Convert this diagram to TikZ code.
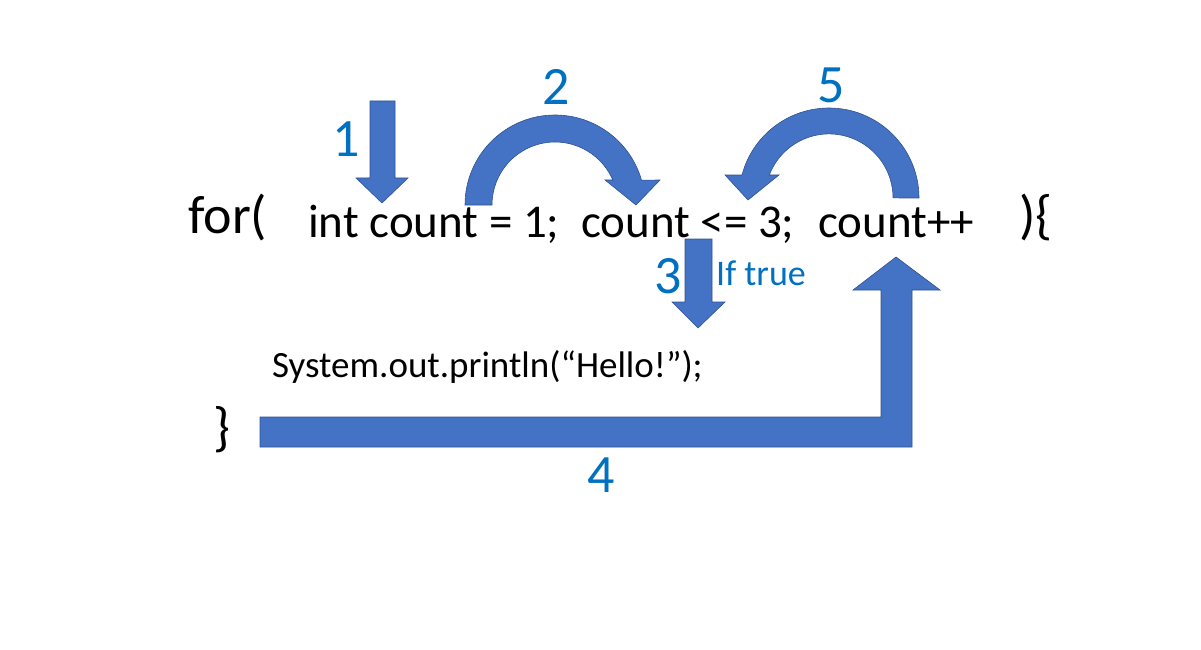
\documentclass[tikz,border=0pt]{standalone}
\usepackage{fontspec}
\setmainfont{Carlito}
\usepackage{tikz}

\definecolor{arrowblue}{HTML}{4472C4}
\definecolor{arrowedge}{HTML}{2F528F}
\definecolor{labelblue}{HTML}{0070C0}

\begin{document}
\begin{tikzpicture}[x=1pt, y=1pt,
    code/.style={anchor=base west, inner sep=0pt, font=\fontsize{47}{50}\selectfont},
    brace/.style={anchor=base west, inner sep=0pt, font=\fontsize{54}{58}\selectfont},
    body/.style={anchor=base west, inner sep=0pt, font=\fontsize{37}{40}\selectfont},
    steplabel/.style={anchor=base, inner sep=0pt, text=labelblue, font=\fontsize{54}{58}\selectfont},
    blockarrow/.style={fill=arrowblue, draw=arrowedge, line width=0.6pt}]
    % Page frame
    \useasboundingbox (0,0) rectangle (1201,649);

    % Code line
    \def\ybase{412}
    \node[brace] (forkw) at (188,416) {for(};
    \node[code] (init) at (308,\ybase) {int count = 1;};
    \node[code] (cond) at (581,\ybase) {count <= 3;};
    \node[code] (incr) at (818,\ybase) {count++};
    \node[brace] (open) at (1019,416) {)\{};
    \node[body] (print) at (272,272) {System.out.println(“Hello!”);};
    \node[brace] (close) at (213,204) {\}};

    % Step 1: straight down into the initialisation
    \draw[blockarrow] (370,548) -- (395,548) -- (395,471) -- (408,471)
      -- (382,446) -- (356,471) -- (370,471) -- cycle;

    % Step 2: curved from initialisation to condition
    \draw[blockarrow] (465,444) arc[start angle=180, end angle=16, radius=90]
      -- (660,469) -- (636,444) -- (605,469) -- (612.8,469)
      arc[start angle=23.4, end angle=180, radius=63] -- cycle;

    % Step 3: down from the condition to the body
    \draw[blockarrow] (685,410) -- (712,410) -- (712,347) -- (725,347)
      -- (698,321) -- (672,347) -- (685,347) -- cycle;

    % Step 4: from the closing brace back up to the increment
    \draw[blockarrow] (260,202) -- (912,202) -- (912,359) -- (940,359)
      -- (896,392) -- (853,359) -- (881,359) -- (881,232) -- (260,232) -- cycle;

    % Step 5: curved from increment back to condition
    \draw[blockarrow] (919,451) arc[start angle=0, end angle=165.2, radius=90]
      -- (725,474) -- (748,449) -- (779,474) -- (769.3,474)
      arc[start angle=159, end angle=0, radius=64] -- cycle;

    % Step numbers
    \node[steplabel] (s1) at (346,492) {1};
    \node[steplabel] (s2) at (556,544) {2};
    \node[steplabel] (s3) at (668,356) {3};
    \node[steplabel] (s4) at (601,157) {4};
    \node[steplabel] (s5) at (831,546) {5};
    \node[anchor=base west, inner sep=0pt, text=labelblue,
      font=\fontsize{36}{40}\selectfont] (iftrue) at (716,364) {If true};
  \end{tikzpicture}
\end{document}
